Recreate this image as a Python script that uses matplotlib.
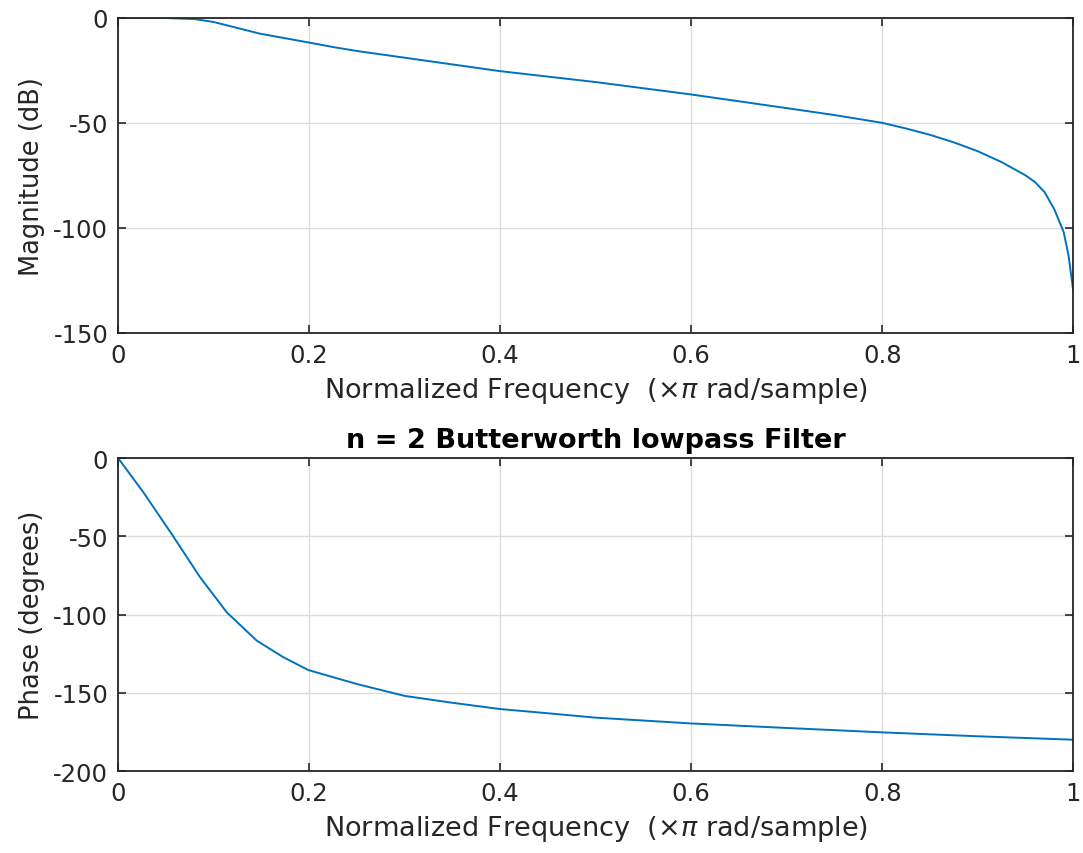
import matplotlib
matplotlib.use("Agg")
import matplotlib.pyplot as plt

# Значення
freq_mag = [0, 0.05, 0.08, 0.1, 0.121, 0.149, 0.2, 0.226, 0.25, 0.3, 0.4,
            0.5, 0.6, 0.7, 0.75, 0.8, 0.825, 0.85, 0.875, 0.9, 0.925, 0.95,
            0.96, 0.97, 0.98, 0.99, 0.995, 1.0]
mag_db = [0, -0.1, -0.6, -2.0, -4.4, -7.6, -11.8, -14.0, -15.8, -19.0,
          -25.4, -30.6, -36.5, -43.0, -46.3, -50.0, -52.7, -55.7, -59.3,
          -63.5, -68.7, -75.0, -78.2, -83.0, -91.0, -102.0, -113.0, -130.0]

freq_ph = [0, 0.0265, 0.0562, 0.0859, 0.1138, 0.1452, 0.1731, 0.1993, 0.25,
           0.3, 0.35, 0.4, 0.45, 0.5, 0.6, 0.7, 0.8, 0.9, 1.0]
phase_deg = [0, -21.9, -48.6, -76.2, -98.6, -116.7, -127.3, -135.5, -144.4,
             -152.0, -156.4, -160.4, -163.1, -165.9, -169.6, -172.5, -175.3,
             -177.8, -180.0]

mag_ticks = [0, -50, -100, -150]
phase_ticks = [0, -50, -100, -150, -200]
x_ticks = [0, 0.2, 0.4, 0.6, 0.8, 1]
x_labels = ["0", "0.2", "0.4", "0.6", "0.8", "1"]

xlabel = r"Normalized Frequency  ($\times\pi$ rad/sample)"
title = "n = 2 Butterworth lowpass Filter"


def style_axes(ax):
    ax.set_xlim(0, 1)
    ax.set_xticks(x_ticks)
    ax.set_xticklabels(x_labels)
    ax.grid(True, color="#dcdcdc", linewidth=1)
    ax.set_axisbelow(True)
    ax.tick_params(direction="in", top=True, right=True, length=6,
                   width=1.2, colors="#262626", labelsize=17.5, pad=7)
    for s in ax.spines.values():
        s.set_color("#262626")
        s.set_linewidth(1.3)
    ax.set_xlabel(xlabel, fontsize=19.5, color="#262626", labelpad=6)


def main():
    plt.rcParams["axes.unicode_minus"] = False
    plt.rcParams["font.family"] = "DejaVu Sans"
    fig = plt.figure(figsize=(10.83, 8.54), dpi=100)

    # Амплітуда
    ax1 = fig.add_axes([0.109, 0.609, 0.882, 0.369])
    ax1.plot(freq_mag, mag_db, color="#0072BD", linewidth=1.4)
    ax1.set_ylim(-150, 0)
    ax1.set_yticks(mag_ticks)
    ax1.set_ylabel("Magnitude (dB)", fontsize=18.5, color="#262626",
                   labelpad=6)
    style_axes(ax1)

    # Фаза
    ax2 = fig.add_axes([0.109, 0.096, 0.882, 0.3665])
    ax2.plot(freq_ph, phase_deg, color="#0072BD", linewidth=1.4)
    ax2.set_ylim(-200, 0)
    ax2.set_yticks(phase_ticks)
    ax2.set_ylabel("Phase (degrees)", fontsize=18.5, color="#262626",
                   labelpad=6)
    ax2.set_title(title, fontsize=19.5, fontweight="bold", pad=8)
    style_axes(ax2)

    fig.savefig("out.png", dpi=100)


if __name__ == "__main__":
    main()
